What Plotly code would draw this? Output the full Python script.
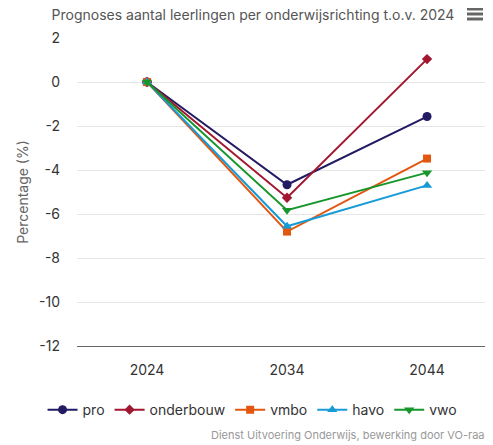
import plotly.graph_objects as go

# Prognose: verandering t.o.v. 2024 (%)
years = ["2024", "2034", "2044"]
pro = [0, -4.67, -1.57]
onderbouw = [0, -5.26, 1.04]
vmbo = [0, -6.8, -3.48]
havo = [0, -6.56, -4.7]
vwo = [0, -5.83, -4.12]
y_ticks = [2, 0, -2, -4, -6, -8, -10, -12]
y_ticklabels = ["2", "0", "-2", "-4", "-6", "-8", "-10", "-12"]

series = [
    ("pro", pro, "#221b63", "circle", 9),
    ("onderbouw", onderbouw, "#a3162f", "diamond", 8),
    ("vmbo", vmbo, "#e3560f", "square", 8),
    ("havo", havo, "#179bd7", "triangle-up", 9),
    ("vwo", vwo, "#17962c", "triangle-down", 9),
]

font = "Inter, Roboto, Arial, sans-serif"

fig = go.Figure()
for name, vals, col, sym, sz in series:
    fig.add_trace(go.Scatter(x=years, y=vals, name=name, mode="lines+markers",
                             line=dict(color=col, width=2),
                             marker=dict(symbol=sym, size=sz, color=col)))

# the page body has an 8px margin, so the figure is 8px smaller than the window
fig.update_layout(
    width=485, height=437,
    margin=dict(l=69, r=0, t=30, b=99),
    plot_bgcolor="white", paper_bgcolor="white",
    font=dict(family=font, size=14, color="#333333"),
    title=dict(text="Prognoses aantal leerlingen per onderwijsrichting t.o.v. 2024",
               x=245 / 485, xref="container", xanchor="center",
               y=1 - 2 / 437, yref="container", yanchor="top", pad=dict(t=0, b=0),
               font=dict(size=14, color="#555555")),
    showlegend=True,
    legend=dict(orientation="h", x=0.422, xanchor="center", y=-0.208, yanchor="middle",
                font=dict(size=14, color="#333333")),
    hovermode="x unified",
)

fig.update_xaxes(range=[-0.5, 2.471], showgrid=False, showline=True, linecolor="#666666",
                 linewidth=1, ticks="", ticklabelstandoff=11, tickfont=dict(size=14))
fig.update_yaxes(range=[-12, 2], tickvals=y_ticks, ticktext=y_ticklabels,
                 showgrid=True, gridcolor="#e6e6e6", zeroline=False,
                 ticks="", ticklabelstandoff=16, tickfont=dict(size=14),
                 title=dict(text="Percentage (%)", font=dict(size=14, color="#666666"), standoff=7))

# credits, partly cut off on the right like in the original
fig.add_annotation(text="Dienst Uitvoering Onderwijs, bewerking door VO-raad",
                   xref="paper", yref="paper", x=(209 - 77) / 416, y=-0.289,
                   xanchor="left", yanchor="middle", showarrow=False,
                   font=dict(size=11, color="#999999"))

# hamburger menu icon
for yy in [9, 14, 19]:
    fig.add_shape(type="line", xref="paper", yref="paper",
                  x0=(467 - 77) / 416, x1=(483 - 77) / 416,
                  y0=(346 - yy) / 308, y1=(346 - yy) / 308,
                  line=dict(color="#666666", width=3))

fig.write_html("out.html", config={"displayModeBar": False})
